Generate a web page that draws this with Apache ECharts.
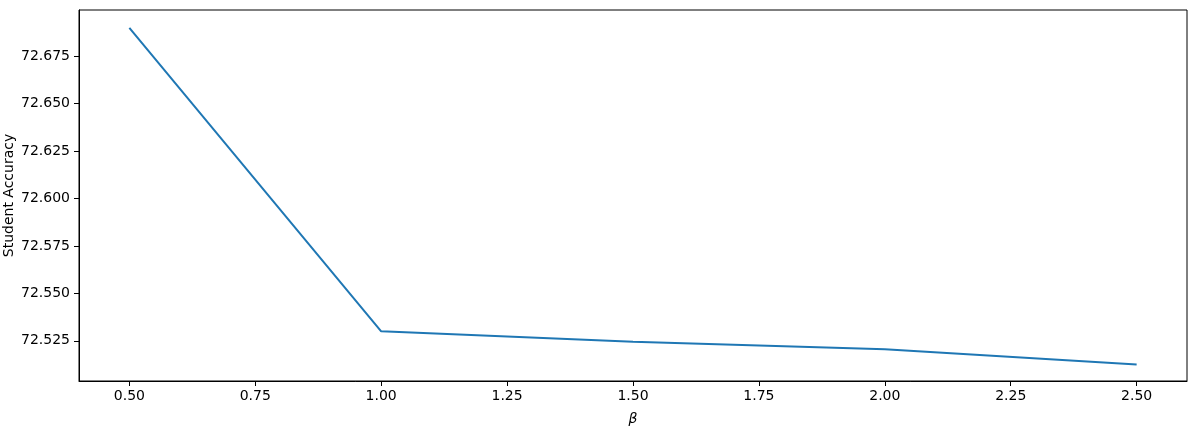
<!DOCTYPE html>
<html>
<head>
<meta charset="utf-8">
<script src="https://cdn.jsdelivr.net/npm/echarts@6/dist/echarts.min.js"></script>
<style>
html,body{margin:0;padding:0;background:#fff;}
#chart{width:1190px;height:429px;}
</style>
</head>
<body>
<div id="chart"></div>
<script>
const betaValues = [0.5, 1.0, 1.5, 2.0, 2.5];
const accuracyValues = [72.69, 72.53, 72.5245, 72.5205, 72.5125];
const xTicks = [0.5, 0.75, 1.0, 1.25, 1.5, 1.75, 2.0, 2.25, 2.5];
const yTicks = [72.525, 72.55, 72.575, 72.6, 72.625, 72.65, 72.675];

const chart = echarts.init(document.getElementById('chart'), null, {renderer: 'canvas'});
const font = 'DejaVu Sans';
const option = {
  animation: false,
  backgroundColor: '#fff',
  grid: {left: 79, right: 3, top: 10, bottom: 48, containLabel: false, outerBoundsMode: 'none', show: true, borderColor: '#000', borderWidth: 1, backgroundColor: 'transparent'},
  xAxis: {
    type: 'value', min: 0.4, max: 2.6,
    name: 'β', nameLocation: 'middle', nameGap: 31, nameMoveOverlap: false,
    nameTextStyle: {fontFamily: font, fontSize: 14, fontStyle: 'italic', color: '#000'},
    axisLine: {show: true, onZero: false, lineStyle: {color: '#000', width: 1}},
    axisTick: {show: true, inside: false, length: 5, lineStyle: {color: '#000'}, customValues: xTicks},
    axisLabel: {customValues: xTicks, formatter: v => v.toFixed(2), fontFamily: font, fontSize: 14, color: '#000', margin: 8},
    splitLine: {show: false}
  },
  yAxis: {
    type: 'value', min: 72.5038, max: 72.6994,
    name: 'Student Accuracy', nameLocation: 'middle', nameGap: 63, nameMoveOverlap: false,
    nameTextStyle: {fontFamily: font, fontSize: 14, color: '#000'},
    axisLine: {show: true, onZero: false, lineStyle: {color: '#000', width: 1}},
    axisTick: {show: true, inside: false, length: 5, lineStyle: {color: '#000'}, customValues: yTicks},
    axisLabel: {customValues: yTicks, formatter: v => v.toFixed(3), fontFamily: font, fontSize: 14, color: '#000', margin: 9},
    splitLine: {show: false}
  },
  series: [{
    type: 'line',
    data: betaValues.map((b, i) => [b, accuracyValues[i]]),
    showSymbol: false,
    lineStyle: {color: '#1f77b4', width: 2},
    itemStyle: {color: '#1f77b4'}
  }]
};
chart.setOption(option);
</script>
</body>
</html>
